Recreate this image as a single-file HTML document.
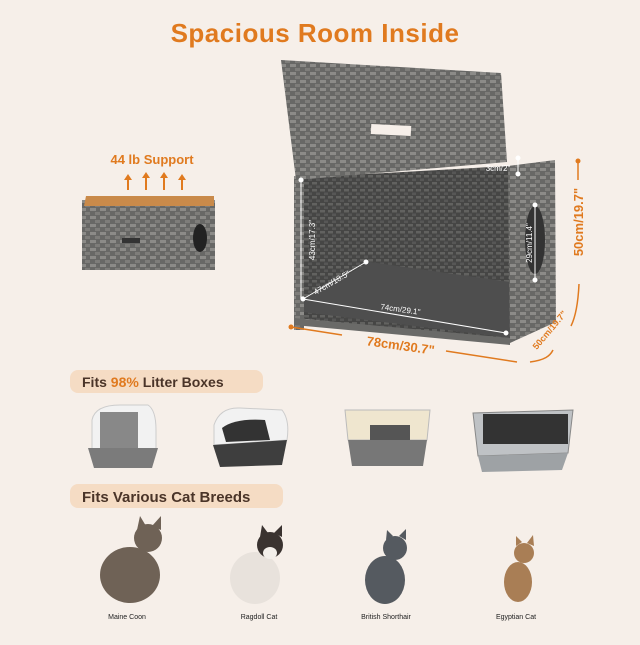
<!DOCTYPE html><html><head><meta charset="utf-8"><style>
body{margin:0;width:640px;height:640px;background:#f6efe9;font-family:"Liberation Sans",sans-serif;overflow:hidden}
</style></head><body>
<svg width="640" height="640" viewBox="0 0 640 640" xmlns="http://www.w3.org/2000/svg" font-family="Liberation Sans, sans-serif">
<defs>
<pattern id="wv" width="10" height="8" patternUnits="userSpaceOnUse">
<rect width="10" height="8" fill="#686866"/><rect x="0" y="0" width="6" height="3" fill="#8c8b88"/><rect x="5" y="4" width="6" height="3" fill="#7e7d7a"/></pattern>
<pattern id="wd" width="8" height="7" patternUnits="userSpaceOnUse">
<rect width="8" height="7" fill="#464645"/><rect x="0" y="0" width="5" height="2.5" fill="#626260"/><rect x="4" y="3.5" width="5" height="2.5" fill="#575756"/></pattern>
</defs>
<text x="315" y="42" text-anchor="middle" font-size="26" font-weight="bold" fill="#e07a1f" letter-spacing="0.5">Spacious Room Inside</text>
<text x="152" y="164" text-anchor="middle" font-size="13" font-weight="bold" fill="#e07a1f">44 lb Support</text>
<g stroke="#e07a1f" stroke-width="2" fill="#e07a1f">
<line x1="128" y1="190" x2="128" y2="178"/><line x1="146" y1="190" x2="146" y2="176"/><line x1="164" y1="190" x2="164" y2="176"/><line x1="182" y1="190" x2="182" y2="178"/>
<path d="M124 180l4-6 4 6z M142 178l4-6 4 6z M160 178l4-6 4 6z M178 180l4-6 4 6z" stroke="none"/></g>
<rect x="82" y="200" width="133" height="70" fill="url(#wv)"/>
<polygon points="86,196 214,196 214,206 84,206" fill="#c98a4a"/>
<ellipse cx="200" cy="238" rx="7" ry="14" fill="#222"/>
<rect x="122" y="238" width="18" height="5" fill="#333"/>
<polygon points="296,178 510,166 510,340 296,318" fill="url(#wd)"/>
<polygon points="303,300 370,262 510,282 510,338 303,312" fill="#4e4e4e"/>
<polygon points="281,60 501,73 507,162 296,180" fill="url(#wv)"/>
<rect x="371" y="125" width="40" height="10" fill="#f6efe9" transform="rotate(3 391 130)"/>
<polygon points="294,176 304,176 304,330 294,330" fill="url(#wv)"/>
<polygon points="294,318 510,338 510,345 294,325" fill="#6a6a68"/>
<polygon points="508,166 555,160 556,322 510,343" fill="url(#wv)"/>
<ellipse cx="535" cy="240" rx="10" ry="34" fill="#333"/>
<g stroke="#fff" stroke-width="1" fill="#fff">
<line x1="301" y1="180" x2="301" y2="299"/><line x1="303" y1="299" x2="366" y2="262"/><line x1="303" y1="299" x2="506" y2="333"/>
<line x1="518" y1="158" x2="518" y2="174"/><line x1="535" y1="205" x2="535" y2="280"/>
<circle cx="301" cy="180" r="2"/><circle cx="303" cy="299" r="2"/><circle cx="366" cy="262" r="2"/><circle cx="506" cy="333" r="2"/><circle cx="518" cy="158" r="2"/><circle cx="518" cy="174" r="2"/><circle cx="535" cy="205" r="2"/><circle cx="535" cy="280" r="2"/></g>
<g fill="#fff" font-size="8">
<text x="315" y="240" transform="rotate(-90 315 240)" text-anchor="middle">43cm/17.3"</text>
<text x="333" y="285" transform="rotate(-30 333 285)" text-anchor="middle">47cm/18.5"</text>
<text x="400" y="312" transform="rotate(8 400 312)" text-anchor="middle">74cm/29.1"</text>
<text x="498" y="171" text-anchor="middle">3cm/2"</text>
<text x="532" y="243" transform="rotate(-90 532 243)" text-anchor="middle">29cm/11.4"</text></g>
<g stroke="#e07a1f" stroke-width="1.5" fill="none">
<line x1="291" y1="327" x2="342" y2="335"/><line x1="446" y1="351" x2="517" y2="362"/>
<line x1="578" y1="161" x2="578" y2="180"/>
<path d="M579 284 C578 305 575 318 571 326"/><path d="M530 362 C545 360 550 356 553 350"/></g>
<circle cx="291" cy="327" r="2.5" fill="#e07a1f"/><circle cx="578" cy="161" r="2.5" fill="#e07a1f"/>
<g fill="#e07a1f" font-weight="bold">
<text x="400" y="350" transform="rotate(8 400 350)" text-anchor="middle" font-size="13">78cm/30.7"</text>
<text x="583" y="222" transform="rotate(-90 583 222)" text-anchor="middle" font-size="13">50cm/19.7"</text>
<text x="552" y="332" transform="rotate(-50 552 332)" text-anchor="middle" font-size="9">50cm/19.7"</text></g>
<rect x="70" y="370" width="193" height="23" rx="8" fill="#f5dcc4"/>
<text x="82" y="387" font-size="14" font-weight="bold" fill="#4a3428">Fits <tspan fill="#e07a1f">98%</tspan> Litter Boxes</text>
<rect x="70" y="484" width="213" height="24" rx="8" fill="#f5dcc4"/>
<text x="82" y="502" font-size="15" font-weight="bold" fill="#4a3428">Fits Various Cat Breeds</text>
<path d="M92 420 Q95 405 120 405 L148 405 Q156 410 156 430 L156 450 L92 450Z" fill="#f2f2f2" stroke="#ccc"/>
<rect x="100" y="412" width="38" height="36" fill="#888"/>
<path d="M88 448 L158 448 L152 468 L94 468Z" fill="#7b7b7b"/>
<path d="M214 425 Q220 407 240 408 L282 410 Q290 420 287 440 L214 445Z" fill="#f2f2f2" stroke="#ccc"/>
<path d="M222 428 Q235 418 265 420 L270 440 L226 442Z" fill="#333"/>
<path d="M213 445 L287 440 L282 465 L220 467Z" fill="#3e3e3e"/>
<polygon points="345,410 430,410 427,440 348,440" fill="#efe6cf" stroke="#bbb"/>
<rect x="370" y="425" width="40" height="15" fill="#555"/>
<polygon points="348,440 427,440 423,466 352,466" fill="#777"/>
<polygon points="473,413 573,410 568,453 478,456" fill="#bfc2c5" stroke="#888"/>
<rect x="483" y="414" width="85" height="30" fill="#333"/>
<polygon points="478,456 568,453 562,470 482,472" fill="#9ea2a5"/>
<g fill="#6f6256"><ellipse cx="130" cy="575" rx="30" ry="28"/><circle cx="148" cy="538" r="14"/><path d="M137 530l3-14 6 10zM152 526l9-10 0 14z"/></g>
<g><ellipse cx="255" cy="578" rx="25" ry="26" fill="#e8e2dc"/><circle cx="270" cy="545" r="13" fill="#3a3330"/><path d="M260 537l2-12 6 8zM274 533l8-8 0 12z" fill="#3a3330"/><ellipse cx="270" cy="553" rx="7" ry="6" fill="#f3efea"/></g>
<g fill="#555a60"><ellipse cx="385" cy="580" rx="20" ry="24"/><circle cx="395" cy="548" r="12"/><path d="M386 540l1-10 6 6zM399 536l7-7 0 11z"/></g>
<g fill="#a97e55"><ellipse cx="518" cy="582" rx="14" ry="20"/><circle cx="524" cy="553" r="10"/><path d="M516 546l0-10 6 6zM527 543l6-8 1 11z"/></g>
<g font-size="7" fill="#222" text-anchor="middle">
<text x="127" y="619">Maine Coon</text><text x="259" y="619">Ragdoll Cat</text><text x="386" y="619">British Shorthair</text><text x="516" y="619">Egyptian Cat</text></g>
</svg>
</body></html>
